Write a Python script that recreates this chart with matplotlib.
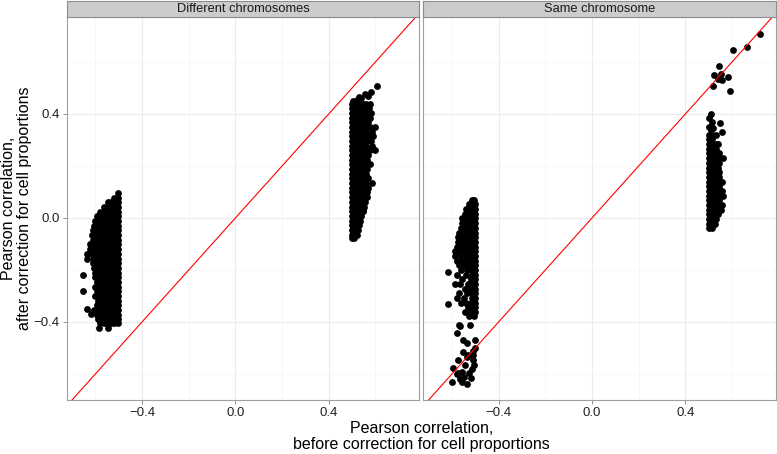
import matplotlib
matplotlib.use("Agg")
import matplotlib.pyplot as plt

plt.rcParams['font.family'] = ['Liberation Sans', 'DejaVu Sans']

# panel titles
panels = ["Different chromosomes", "Same chromosome"]
xticks = [-0.4, 0.0, 0.4]
yticks = [-0.4, 0.0, 0.4]
minor = [-0.6, -0.2, 0.2, 0.6]

# ---- Different chromosomes, cluster near x = -0.5 (rows: y, x values)
lo7 = [-0.505, -0.52, -0.535, -0.55, -0.565, -0.58, -0.595]
diff_lo_rows = [
    (0.095, [-0.505]),
    (0.078, [-0.505, -0.518]),
    (0.060, [-0.505, -0.52, -0.535, -0.547]),
    (0.042, [-0.505, -0.52, -0.535, -0.55, -0.563]),
    (0.024, [-0.505, -0.52, -0.535, -0.55, -0.565, -0.578]),
    (0.006, [-0.505, -0.52, -0.535, -0.55, -0.565, -0.58, -0.592]),
    (-0.012, lo7 + [-0.603]),
    (-0.030, lo7 + [-0.607]),
    (-0.048, lo7 + [-0.61]),
    (-0.066, lo7 + [-0.613]),
    (-0.084, lo7 + [-0.612]),
    (-0.102, lo7 + [-0.61, -0.622]),
    (-0.120, lo7 + [-0.61, -0.625]),
    (-0.138, lo7 + [-0.61, -0.63]),
    (-0.156, lo7 + [-0.612, -0.634]),
    (-0.174, lo7 + [-0.612]),
    (-0.192, lo7 + [-0.607]),
    (-0.210, lo7 + [-0.603]),
    (-0.228, lo7 + [-0.600]),
    (-0.246, lo7),
    (-0.264, lo7 + [-0.603]),
    (-0.282, lo7),
    (-0.300, lo7 + [-0.600]),
    (-0.318, lo7[:-1] + [-0.59]),
    (-0.336, lo7),
    (-0.354, lo7 + [-0.607]),
    (-0.372, lo7),
    (-0.390, lo7[:-1] + [-0.59]),
    (-0.405, [-0.505, -0.52, -0.535, -0.55, -0.565, -0.58]),
    (-0.422, [-0.545, -0.583]),
]
diff_lo_out_x = [-0.655, -0.655, -0.634, -0.608, -0.636, -0.62]
diff_lo_out_y = [-0.218, -0.282, -0.351, -0.360, -0.140, -0.370]

# ---- Different chromosomes, cluster near x = 0.5
hi4 = [0.50, 0.515, 0.53, 0.545]
diff_hi_rows = [
    (0.440, hi4 + [0.56, 0.575]),
    (0.422, hi4 + [0.56, 0.572]),
    (0.404, hi4 + [0.56, 0.58]),
    (0.386, hi4 + [0.56, 0.575]),
    (0.368, hi4 + [0.56, 0.57]),
    (0.350, hi4 + [0.56, 0.575, 0.60]),
    (0.332, hi4 + [0.56, 0.585]),
    (0.314, hi4 + [0.56, 0.575, 0.59]),
    (0.296, hi4 + [0.56, 0.58]),
    (0.278, hi4 + [0.56, 0.585]),
    (0.260, hi4 + [0.56, 0.575, 0.60]),
    (0.242, hi4 + [0.56, 0.57]),
    (0.224, hi4 + [0.565]),
    (0.206, hi4 + [0.56, 0.577]),
    (0.188, hi4 + [0.565]),
    (0.170, hi4 + [0.56]),
    (0.152, hi4 + [0.56, 0.57]),
    (0.134, hi4 + [0.56, 0.585]),
    (0.116, hi4 + [0.56, 0.57]),
    (0.098, hi4 + [0.565]),
    (0.080, hi4 + [0.562]),
    (0.062, hi4 + [0.555]),
    (0.044, hi4 + [0.55]),
    (0.026, hi4 + [0.547]),
    (0.008, hi4[:-1] + [0.54]),
    (-0.010, hi4[:-1] + [0.535]),
    (-0.028, hi4[:-1]),
    (-0.046, [0.50, 0.515, 0.525]),
    (-0.064, [0.50, 0.512, 0.52]),
    (-0.078, [0.50, 0.51]),
]
diff_hi_out_x = [0.605, 0.583, 0.555, 0.569, 0.54, 0.502, 0.52, 0.53]
diff_hi_out_y = [0.508, 0.486, 0.478, 0.469, 0.460, 0.451, 0.455, 0.465]

# ---- Same chromosome, cluster near x = -0.5
same_lo_rows = [
    (0.069, [-0.505, -0.515]),
    (0.052, [-0.50, -0.515, -0.528]),
    (0.034, [-0.50, -0.515, -0.53, -0.54]),
    (0.016, [-0.50, -0.515, -0.53, -0.545]),
    (-0.002, [-0.50, -0.515, -0.53, -0.545, -0.555]),
    (-0.020, [-0.50, -0.515, -0.53, -0.545, -0.558]),
    (-0.038, [-0.50, -0.515, -0.53, -0.545, -0.56]),
    (-0.056, [-0.50, -0.515, -0.53, -0.545, -0.56, -0.57]),
    (-0.074, [-0.50, -0.515, -0.53, -0.545, -0.56, -0.573]),
    (-0.092, [-0.50, -0.515, -0.53, -0.545, -0.56, -0.575]),
    (-0.110, [-0.50, -0.515, -0.53, -0.545, -0.56, -0.58]),
    (-0.128, [-0.50, -0.515, -0.53, -0.545, -0.56, -0.575, -0.587]),
    (-0.146, [-0.50, -0.515, -0.53, -0.545, -0.56, -0.585]),
    (-0.164, [-0.50, -0.515, -0.53, -0.545, -0.56, -0.578]),
    (-0.182, [-0.50, -0.515, -0.53, -0.548, -0.57]),
    (-0.200, [-0.50, -0.515, -0.535, -0.56]),
    (-0.218, [-0.50, -0.515, -0.54, -0.58]),
    (-0.236, [-0.50, -0.52, -0.555]),
    (-0.254, [-0.50, -0.515, -0.53, -0.565, -0.585]),
    (-0.272, [-0.50, -0.52, -0.545]),
    (-0.290, [-0.50, -0.515, -0.535, -0.57]),
    (-0.308, [-0.50, -0.515, -0.55, -0.58]),
    (-0.326, [-0.50, -0.52, -0.54, -0.56]),
    (-0.344, [-0.50, -0.515, -0.53]),
    (-0.362, [-0.50, -0.52, -0.545]),
    (-0.378, [-0.505, -0.525]),
]
same_lo_out_x = [-0.616, -0.616, -0.569, -0.523, -0.577, -0.552, -0.537, -0.501,
                 -0.554, -0.509, -0.509, -0.509, -0.530, -0.573, -0.544, -0.573,
                 -0.559, -0.594, -0.580, -0.601, -0.559, -0.537, -0.519, -0.537,
                 -0.566, -0.500, -0.505, -0.515, -0.525, -0.550, -0.565]
same_lo_out_y = [-0.206, -0.331, -0.410, -0.410, -0.441, -0.469, -0.482, -0.469,
                 -0.514, -0.510, -0.528, -0.546, -0.527, -0.546, -0.565, -0.597,
                 -0.591, -0.578, -0.601, -0.632, -0.632, -0.640, -0.614, -0.533,
                 -0.414, -0.500, -0.565, -0.580, -0.595, -0.610, -0.620]

# ---- Same chromosome, cluster near x = 0.5
s4 = [0.50, 0.515, 0.53, 0.545]
same_hi_rows = [
    (0.320, [0.50, 0.515, 0.53]),
    (0.302, [0.50, 0.515]),
    (0.284, [0.50, 0.515, 0.53, 0.541]),
    (0.266, [0.50, 0.515, 0.53]),
    (0.248, s4),
    (0.230, s4 + [0.563]),
    (0.212, s4),
    (0.194, [0.50, 0.515, 0.53, 0.54]),
    (0.176, s4),
    (0.158, s4),
    (0.140, s4 + [0.555]),
    (0.122, s4),
    (0.104, s4 + [0.555]),
    (0.086, s4 + [0.563]),
    (0.068, s4),
    (0.050, s4 + [0.555]),
    (0.032, s4 + [0.551]),
    (0.014, [0.50, 0.515, 0.53, 0.54]),
    (-0.004, [0.50, 0.515, 0.53]),
    (-0.022, [0.50, 0.515, 0.525]),
    (-0.040, [0.503, 0.515]),
]
same_hi_out_x = [0.509, 0.503, 0.512, 0.503, 0.549, 0.556, 0.51, 0.52,
                 0.720, 0.663, 0.606, 0.546, 0.524, 0.553, 0.539, 0.556,
                 0.582, 0.520, 0.591]
same_hi_out_y = [0.399, 0.385, 0.370, 0.351, 0.364, 0.332, 0.340, 0.345,
                 0.708, 0.658, 0.647, 0.585, 0.549, 0.554, 0.533, 0.531,
                 0.544, 0.508, 0.488]


def flatten(rows, ox, oy):
    xs, ys = [], []
    for y, row in rows:
        for x in row:
            xs.append(x)
            ys.append(y)
    return xs + ox, ys + oy


panel_data = [
    [flatten(diff_lo_rows, diff_lo_out_x, diff_lo_out_y),
     flatten(diff_hi_rows, diff_hi_out_x, diff_hi_out_y)],
    [flatten(same_lo_rows, same_lo_out_x, same_lo_out_y),
     flatten(same_hi_rows, same_hi_out_x, same_hi_out_y)],
]

W, H = 777, 454
fig = plt.figure(figsize=(W / 100, H / 100), dpi=100)

lefts = [66.7, 423.3]
pw = 352.5
ptop, pbot = 16.7, 400.0

for i, name in enumerate(panels):
    ax = fig.add_axes([lefts[i] / W, (H - pbot) / H, pw / W, (pbot - ptop) / H])
    for xs, ys in panel_data[i]:
        ax.scatter(xs, ys, s=24, color='black', linewidths=0, zorder=3)
    ax.axline((0, 0), slope=1, color='#ff0000', lw=0.8, zorder=4)

    ax.set_xlim(-0.7227, 0.7874)
    ax.set_ylim(-0.700, 0.774)
    ax.set_xticks(xticks)
    ax.set_yticks(yticks)
    ax.set_xticks(minor, minor=True)
    ax.set_yticks(minor, minor=True)
    ax.set_xticklabels(['\u22120.4', '0.0', '0.4'])
    ax.grid(which='major', color='#ebebeb', lw=0.8)
    ax.grid(which='minor', color='#f6f6f6', lw=0.6)
    ax.set_axisbelow(True)
    ax.tick_params(which='minor', length=0)
    ax.tick_params(which='major', length=3, width=0.6, color='#7f7f7f',
                   labelsize=9.5, labelcolor='#222222', pad=2)
    if i == 0:
        ax.set_yticklabels(['\u22120.4', '0.0', '0.4'])
    else:
        ax.tick_params(axis='y', left=False, labelleft=False)
    for sp in ax.spines.values():
        sp.set_color('#a0a0a0')
        sp.set_linewidth(0.8)

    # facet strip
    sax = fig.add_axes([lefts[i] / W, (H - ptop) / H, pw / W, 15.7 / H])
    sax.set_xticks([])
    sax.set_yticks([])
    sax.set_facecolor('#cccccc')
    for sp in sax.spines.values():
        sp.set_color('#8c8c8c')
        sp.set_linewidth(0.8)
    sax.text(0.5, 0.48, name, ha='center', va='center', fontsize=9.3,
             color='#1a1a1a', transform=sax.transAxes)

fig.text(421.3 / W, 1 - 436.5 / H,
         "Pearson correlation,\nbefore correction for cell proportions",
         ha='center', va='center', ma='center', fontsize=11.5, linespacing=1.05)
fig.text(16.5 / W, 1 - 208 / H,
         "Pearson correlation,\nafter correction for cell proportions",
         ha='center', va='center', ma='center', rotation=90, fontsize=11.5,
         linespacing=1.05)

fig.savefig("out.png", dpi=100)
